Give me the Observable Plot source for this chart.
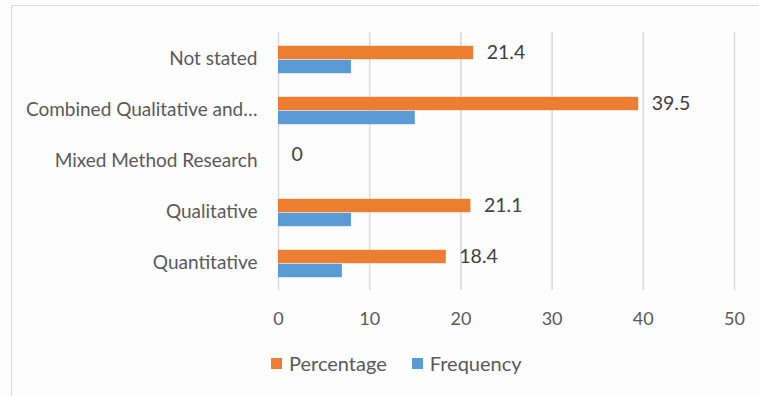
<!DOCTYPE html>
<html>
<head>
<meta charset="utf-8">
<script src="https://cdn.jsdelivr.net/npm/d3@7"></script>
<script src="https://cdn.jsdelivr.net/npm/@observablehq/plot@0.6"></script>
<style>
  html, body { margin: 0; padding: 0; background: #fdfdfd; }
  #wrap { position: relative; width: 759px; height: 396px; overflow: hidden; background: #fdfdfd; }
  #frame { position: absolute; left: 11px; top: 5px; width: 800px; height: 420px; border: 1.5px solid #d9d9d9; box-sizing: border-box; }
  #chart { position: absolute; left: 0; top: 0; }
  #legend { position: absolute; left: 271px; top: 351px; display: flex; align-items: center; font-family: Lato, "Open Sans", sans-serif; font-size: 20px; color: #595959; }
  .sw { display: inline-block; width: 11px; height: 11px; margin-right: 7px; }
  .item { display: flex; align-items: center; margin-right: 25px; }
</style>
</head>
<body>
<div id="wrap">
  <div id="frame"></div>
  <div id="chart"></div>
  <div id="legend"></div>
</div>
<script>
// Research design categories, top to bottom
const categories = [
  "Not stated",
  "Combined Qualitative and…",
  "Mixed Method Research",
  "Qualitative",
  "Quantitative"
];
const percentage = [21.4, 39.5, 0, 21.1, 18.4];
const frequency = [8, 15, 0, 8, 7];
const xTicks = [0, 10, 20, 30, 40, 50];

const seriesNames = ["Percentage", "Frequency"];
const seriesColors = ["#ED7D31", "#5B9BD5"];

const pctRows = categories.map((c, i) => ({category: c, value: percentage[i]}));
const freqRows = categories.map((c, i) => ({category: c, value: frequency[i]}));

const font = 'Lato, "Open Sans", sans-serif';

const chart = Plot.plot({
  width: 759,
  height: 335,
  marginLeft: 278,
  marginRight: 25,
  marginTop: 32,
  marginBottom: 45,
  style: {background: "transparent", fontFamily: font, color: "#595959"},
  x: {domain: [0, 50], ticks: xTicks, label: null},
  y: {domain: categories, padding: 0, label: null},
  marks: [
    Plot.gridX(xTicks, {stroke: "#d9d9d9", strokeOpacity: 1, strokeWidth: 1.5}),
    Plot.barX(pctRows, {y: "category", x: "value", fill: seriesColors[0], insetTop: 11.8, insetBottom: 25.8}),
    Plot.barX(freqRows, {y: "category", x: "value", fill: seriesColors[1], insetTop: 25.8, insetBottom: 11.8}),
    Plot.text(pctRows, {
      y: "category", x: "value", text: d => String(d.value),
      dx: 13, dy: -7, textAnchor: "start", fill: "#404040", fontSize: 19.5
    }),
    Plot.axisX({ticks: xTicks, tickSize: 0, tickPadding: 22, fontSize: 18, fill: "#595959", label: null}),
    Plot.axisY({tickSize: 0, tickPadding: 21, fontSize: 19, fill: "#595959", label: null, dy: -1})
  ]
});
document.getElementById("chart").appendChild(chart);

const legend = document.getElementById("legend");
seriesNames.forEach((name, i) => {
  const item = document.createElement("span");
  item.className = "item";
  const sw = document.createElement("span");
  sw.className = "sw";
  sw.style.background = seriesColors[i];
  item.appendChild(sw);
  item.appendChild(document.createTextNode(name));
  legend.appendChild(item);
});
</script>
</body>
</html>
